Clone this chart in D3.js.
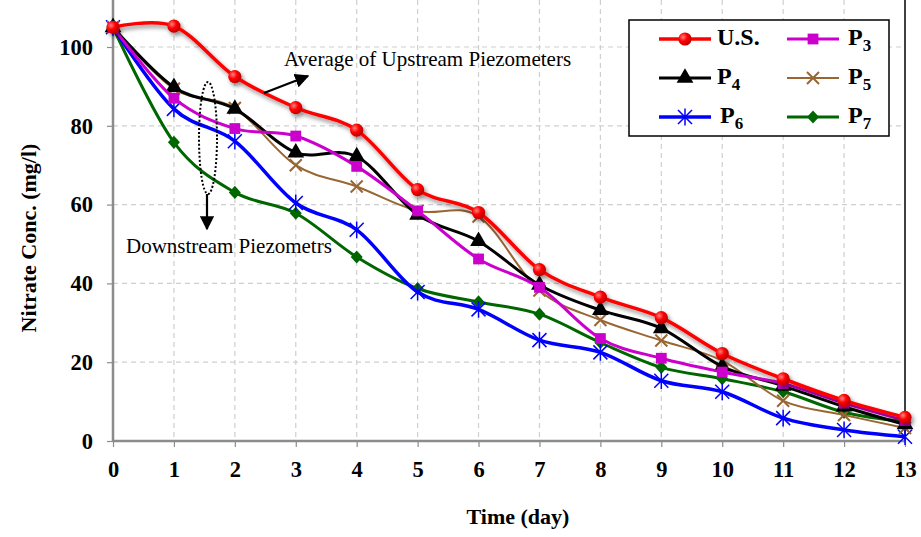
<!DOCTYPE html>
<html><head><meta charset="utf-8">
<script src="https://cdn.jsdelivr.net/npm/d3@7"></script>
<style>body{margin:0;background:#fff}svg{display:block}</style>
</head><body><svg id="c" width="921" height="537"></svg>
<script>
const days = [0,1,2,3,4,5,6,7,8,9,10,11,12,13];
const US = [105,105.3,92.5,84.6,78.9,63.8,58,43.5,36.5,31.3,22.2,15.8,10.3,6];
const P3 = [105,87,79.3,77.4,69.7,58.4,46.2,39,26,21,17.5,14.6,9.6,5.2];
const P4 = [105,89.8,84.3,73.2,72.2,57.4,50.7,39.6,33.2,28.6,18.9,14,8.7,4.2];
const P5 = [105,89.4,84.5,70,64.6,58.4,57,38.2,30.7,25.5,20.4,10.2,6.6,3.3];
const P6 = [105,84.3,76.1,60.4,53.6,37.8,33.4,25.6,22.5,15.3,12.5,5.8,2.8,1.1];
const P7 = [105,75.8,63.1,57.8,46.7,38.7,35.3,32.2,25,18.7,15.8,12.5,7.3,4.9];
const yTicks = [0,20,40,60,80,100];
const seriesNames = ["U.S.","P3","P4","P5","P6","P7"];
const seriesData = [US,P3,P4,P5,P6,P7];
const colors = ["#ff0000","#cc00cc","#000000","#996633","#0000ff","#006600"];
const widths = [3.5,3,3,2,3.5,3];
const shapes = ["circle","square","triangle","x","star","diamond"];

const svg = d3.select("#c");
const x = d3.scaleLinear().domain([0,13]).range([113,905]);
const y = d3.scaleLinear().domain([0,110]).range([441,7.6]);
const ff = "'Liberation Serif','Times New Roman',serif";

const defs = svg.append("defs");
const rg = defs.append("radialGradient").attr("id","rg").attr("cx","35%").attr("cy","35%").attr("r","65%");
rg.append("stop").attr("offset","0%").attr("stop-color","#ff8080");
rg.append("stop").attr("offset","50%").attr("stop-color","#ff0000");
rg.append("stop").attr("offset","100%").attr("stop-color","#c00000");
const f = defs.append("filter").attr("id","sh").attr("x","-10%").attr("y","-10%").attr("width","130%").attr("height","130%");
f.append("feDropShadow").attr("dx",2).attr("dy",3).attr("stdDeviation",2).attr("flood-color","#000").attr("flood-opacity",0.45);

const g = svg.append("g");
g.selectAll(".gy").data(yTicks.filter(d=>d>0)).enter().append("line")
  .attr("x1",113).attr("x2",905).attr("y1",d=>y(d)).attr("y2",d=>y(d))
  .attr("stroke","#cfcfcf").attr("stroke-width",1.2).attr("stroke-dasharray","5,4");
g.selectAll(".gx").data(days.filter(d=>d>0 && d<13)).enter().append("line")
  .attr("y1",0).attr("y2",441).attr("x1",d=>x(d)).attr("x2",d=>x(d))
  .attr("stroke","#cfcfcf").attr("stroke-width",1.2).attr("stroke-dasharray","5,4");
svg.append("line").attr("x1",x(13)).attr("x2",x(13)).attr("y1",0).attr("y2",441).attr("stroke","#000").attr("stroke-width",1.5);

const xAxis = d3.axisBottom(x).tickValues(days).tickSize(6).tickPadding(14).tickFormat(d3.format("d"));
const xa = svg.append("g").attr("transform","translate(0,441)").call(xAxis);
const yAxis = d3.axisLeft(y).tickValues(yTicks).tickSize(6).tickPadding(14);
const ya = svg.append("g").attr("transform","translate(113,0)").call(yAxis);
[xa,ya].forEach(a=>{
  a.select(".domain").attr("stroke","#8c8c8c").attr("stroke-width",2.5);
  a.selectAll(".tick line").attr("stroke","#8c8c8c").attr("stroke-width",1.2);
  a.selectAll("text").attr("font-family",ff).attr("font-weight","bold").attr("font-size",22.5).attr("fill","#000");
});
xa.select(".domain").attr("d","M113,0H905");
ya.select(".domain").attr("d","M0,441V0");

svg.append("text").attr("x",518).attr("y",524).attr("text-anchor","middle")
  .attr("font-family",ff).attr("font-weight","bold").attr("font-size",22).text("Time (day)");
svg.append("text").attr("transform","translate(36,238) rotate(-90)").attr("text-anchor","middle")
  .attr("font-family",ff).attr("font-weight","bold").attr("font-size",22).text("Nitrate Conc. (mg/l)");

function marker(sel, shape, color, s){
  if(shape==="circle") sel.append("circle").attr("r",s*0.55).attr("fill","url(#rg)");
  else if(shape==="square") sel.append("rect").attr("x",-s*0.45).attr("y",-s*0.45).attr("width",s*0.9).attr("height",s*0.9).attr("fill",color);
  else if(shape==="triangle") sel.append("path").attr("d",d3.symbol(d3.symbolTriangle, s*s*0.85)()).attr("fill",color);
  else if(shape==="diamond") sel.append("path").attr("d",`M0,${-s*0.55}L${s*0.5},0L0,${s*0.55}L${-s*0.5},0Z`).attr("fill",color);
  else if(shape==="x") sel.append("path").attr("d",`M${-s/2},${-s/2}L${s/2},${s/2}M${-s/2},${s/2}L${s/2},${-s/2}`).attr("stroke",color).attr("stroke-width",2);
  else if(shape==="star") sel.append("path").attr("d",`M${-s/2},${-s/2}L${s/2},${s/2}M${-s/2},${s/2}L${s/2},${-s/2}M0,${-s*0.6}L0,${s*0.6}`).attr("stroke",color).attr("stroke-width",1.5);
}

const line = d3.line().x((d,i)=>x(days[i])).y(d=>y(d)).curve(d3.curveCardinal.tension(0));
[5,4,3,2,1,0].forEach(k=>{
  const gg = svg.append("g");
  if(k===0) gg.attr("filter","url(#sh)");
  gg.append("path").attr("d",line(seriesData[k])).attr("fill","none")
    .attr("stroke",colors[k]).attr("stroke-width",widths[k]);
  seriesData[k].forEach((v,i)=>{
    const m = gg.append("g").attr("transform",`translate(${x(days[i])},${y(v)})`);
    marker(m, shapes[k], colors[k], k===4?14:12);
  });
});

const lg = svg.append("g");
lg.append("rect").attr("x",629).attr("y",20).attr("width",260).attr("height",116)
  .attr("fill","#fff").attr("stroke","#000").attr("stroke-width",1.5);
seriesNames.forEach((n,k)=>{
  const col = k%2, row = Math.floor(k/2);
  const lx = col===0?659:787, ly = 39+row*39;
  const e = lg.append("g");
  e.append("line").attr("x1",lx).attr("x2",lx+52).attr("y1",ly).attr("y2",ly).attr("stroke",colors[k]).attr("stroke-width",widths[k]);
  marker(e.append("g").attr("transform",`translate(${lx+26},${ly})`), shapes[k], colors[k], k===4?14:12);
  const t = e.append("text").attr("x",col===0?(k===4?720:717):848).attr("y",ly+5.5)
    .attr("font-family",ff).attr("font-weight","bold").attr("font-size",24);
  if(n.startsWith("P")){
    t.append("tspan").text("P");
    t.append("tspan").attr("dy",6).attr("font-size",17).text(n.slice(1));
  } else t.text(n);
});

svg.append("text").attr("x",284).attr("y",66).attr("font-family",ff).attr("font-size",21).text("Average of Upstream Piezometers");
defs.append("marker").attr("id","ah").attr("viewBox","0 0 10 10").attr("refX",9).attr("refY",5)
  .attr("markerWidth",6.5).attr("markerHeight",6.5).attr("markerUnits","strokeWidth").attr("orient","auto")
  .append("path").attr("d","M0,0L10,5L0,10Z").attr("fill","#000");
svg.append("line").attr("x1",264).attr("y1",93).attr("x2",308).attr("y2",76).attr("stroke","#000").attr("stroke-width",2.2).attr("marker-end","url(#ah)");
svg.append("ellipse").attr("cx",208).attr("cy",138).attr("rx",9).attr("ry",56).attr("fill","none")
  .attr("stroke","#000").attr("stroke-width",2).attr("stroke-dasharray","2,2");
svg.append("line").attr("x1",207).attr("y1",194).attr("x2",207).attr("y2",229).attr("stroke","#000").attr("stroke-width",2.2).attr("marker-end","url(#ah)");
svg.append("text").attr("x",126).attr("y",253).attr("font-family",ff).attr("font-size",21).text("Downstream Piezometrs");
</script></body></html>
